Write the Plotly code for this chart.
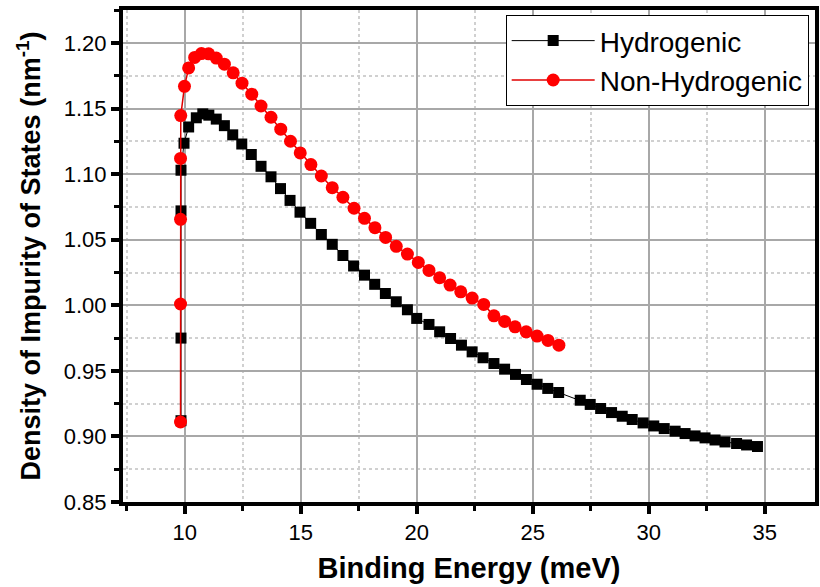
import plotly.graph_objects as go

# Hydrogenic series (binding energy in meV, density in nm^-1)
hyd_x = [9.84, 9.84, 9.84, 9.84, 9.97, 10.17, 10.50, 10.78, 11.04, 11.36, 11.71, 12.07,
         12.46, 12.87, 13.29, 13.72, 14.13, 14.54, 14.97, 15.43, 15.89, 16.36, 16.82,
         17.28, 17.75, 18.19, 18.65, 19.12, 19.60, 20.00, 20.53, 20.99, 21.46, 21.93,
         22.39, 22.86, 23.33, 23.79, 24.26, 24.73, 25.19, 25.65, 26.12, 27.05, 27.48,
         27.93, 28.40, 28.86, 29.29, 29.76, 30.22, 30.67, 31.14, 31.57, 32.00, 32.43,
         32.86, 33.29, 33.79, 34.22, 34.69]
hyd_y = [0.912, 0.975, 1.072, 1.103, 1.1236, 1.136, 1.143, 1.146, 1.145, 1.142, 1.137,
         1.130, 1.123, 1.115, 1.106, 1.098, 1.089, 1.080, 1.071, 1.0625, 1.054, 1.0465,
         1.038, 1.030, 1.023, 1.016, 1.009, 1.0027, 0.9966, 0.990, 0.9854, 0.9798,
         0.9747, 0.9696, 0.9645, 0.960, 0.9556, 0.9513, 0.9473, 0.9434, 0.9398, 0.9366,
         0.9335, 0.9276, 0.9244, 0.9213, 0.9182, 0.9154, 0.9129, 0.9103, 0.9080, 0.9060,
         0.9040, 0.9022, 0.9004, 0.8989, 0.8973, 0.8958, 0.8946, 0.8935, 0.8923]

# Non-hydrogenic series
non_x = [9.82, 9.82, 9.82, 9.82, 9.83, 9.99, 10.17, 10.43, 10.72, 11.03, 11.36, 11.71,
         12.09, 12.47, 12.89, 13.29, 13.72, 14.14, 14.56, 14.98, 15.44, 15.89, 16.36,
         16.82, 17.30, 17.75, 18.20, 18.66, 19.12, 19.60, 20.07, 20.53, 20.99, 21.44,
         21.90, 22.39, 22.89, 23.33, 23.79, 24.24, 24.72, 25.19, 25.66, 26.13]
non_y = [0.911, 1.001, 1.0656, 1.112, 1.1447, 1.167, 1.181, 1.189, 1.192, 1.1918, 1.1885,
         1.1839, 1.1773, 1.1694, 1.161, 1.152, 1.1434, 1.1343, 1.1251, 1.1162, 1.1073,
         1.0986, 1.0897, 1.0824, 1.074, 1.0663, 1.0592, 1.0518, 1.045, 1.0391, 1.0327,
         1.0266, 1.021, 1.0154, 1.0103, 1.0055, 1.0007, 0.992, 0.9877, 0.9836, 0.9798,
         0.9765, 0.9732, 0.9696]

x_ticks = [10, 15, 20, 25, 30, 35]
y_ticks = [0.85, 0.90, 0.95, 1.00, 1.05, 1.10, 1.15, 1.20]
y_tick_labels = ["0.85", "0.90", "0.95", "1.00", "1.05", "1.10", "1.15", "1.20"]

FONT = "Liberation Sans, Arial, sans-serif"

fig = go.Figure()
fig.add_trace(go.Scatter(
    x=hyd_x, y=hyd_y, mode="lines+markers", name="Hydrogenic",
    line=dict(color="black", width=1),
    marker=dict(symbol="square", size=11, color="black"),
))
fig.add_trace(go.Scatter(
    x=non_x, y=non_y, mode="lines+markers", name="Non-Hydrogenic",
    line=dict(color="#e00000", width=1.5),
    marker=dict(symbol="circle", size=13, color="#ff0000"),
))

axis_common = dict(
    showline=True, linecolor="black", linewidth=4, mirror=True,
    ticks="outside", ticklen=8, tickwidth=4, tickcolor="black",
    showgrid=True, gridcolor="#a8a8a8", gridwidth=1.5,
    zeroline=False,
    tickfont=dict(family=FONT, size=22, color="black"),
)

fig.update_xaxes(
    **axis_common,
    range=[7.34, 37.17], tickvals=x_ticks,
    minor=dict(dtick=2.5, tick0=0, ticks="outside", ticklen=5, tickwidth=3, tickcolor="black",
               showgrid=True, gridcolor="#d0d0d0", griddash="dot", gridwidth=1.5),
    title=dict(text="<b>Binding Energy (meV)</b>", font=dict(family=FONT, size=29, color="black"),
               standoff=14),
)
fig.update_yaxes(
    **axis_common,
    range=[0.85, 1.2252], tickvals=y_ticks, ticktext=y_tick_labels,
    minor=dict(dtick=0.025, tick0=0.85, ticks="outside", ticklen=5, tickwidth=3, tickcolor="black",
               showgrid=True, gridcolor="#d0d0d0", griddash="dot", gridwidth=1.5),
    title=dict(text="<b>Density of Impurity of States (nm<sup>-1</sup>)</b>",
               font=dict(family=FONT, size=27, color="black"), standoff=16),
)

fig.update_layout(
    width=820, height=587,
    margin=dict(l=123, r=1, t=10, b=85),
    plot_bgcolor="white", paper_bgcolor="white",
    showlegend=True,
    legend=dict(
        x=0.553, y=0.99, xanchor="left", yanchor="top",
        bgcolor="white", bordercolor="black", borderwidth=1,
        font=dict(family=FONT, size=28, color="black"),
        tracegroupgap=0, itemwidth=83,
    ),
)

fig.write_html("out.html")
